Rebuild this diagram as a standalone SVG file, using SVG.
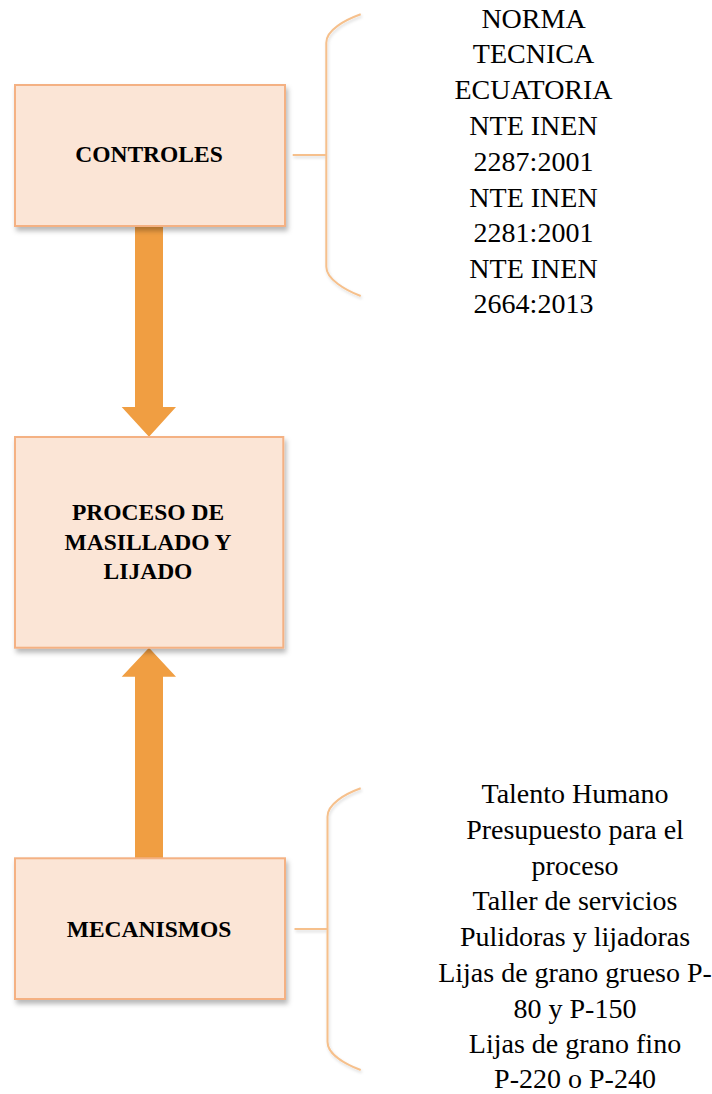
<svg xmlns="http://www.w3.org/2000/svg" width="712" height="1094" viewBox="0 0 712 1094">
  <style>
    .box { fill: #FBE5D6; stroke: #F4B183; stroke-width: 2; filter: url(#shadow); }
    .arrow { fill: #F09E42; }
    .brace { fill: none; stroke: #F6C08C; stroke-width: 2; filter: url(#softShadow); }
    .title { font-family: "Liberation Serif", "Times New Roman", serif; font-weight: bold; font-size: 23.5px; fill: #000; text-anchor: middle; }
    .list { font-family: "Liberation Serif", "Times New Roman", serif; font-size: 28px; fill: #000; text-anchor: middle; }
  </style>
  <defs>
    <filter id="shadow" x="-10%" y="-10%" width="125%" height="130%">
      <feDropShadow dx="2" dy="4" stdDeviation="2.5" flood-color="#000" flood-opacity="0.28"/>
    </filter>
    <filter id="softShadow" x="-20%" y="-10%" width="150%" height="130%">
      <feDropShadow dx="1" dy="2" stdDeviation="1.5" flood-color="#000" flood-opacity="0.15"/>
    </filter>
  </defs>

  <rect width="712" height="1094" fill="#FFFFFF"/>

  <!-- connectors: block arrows between the boxes and the braces to the lists -->
  <g id="connectors">
    <path class="arrow" d="M135,226 H163 V407 H176 L149,436.7 L121.7,407 H135 Z"/>
    <path class="arrow" d="M135,858 H163 V676.7 H176 L149,647.7 L121.7,676.7 H135 Z"/>
    <path class="brace" d="M360.7,14.3 C345,20 326.3,30 326.3,42.7 V266.7 C326.3,279 345,290 360.7,296 M292.7,155 H326.3"/>
    <path class="brace" d="M360.7,788.3 C345,794 327.5,804 327.5,816.7 V1041.7 C327.5,1054 345,1064 360.7,1070 M294.5,929 H327.5"/>
  </g>

  <g id="controles">
    <rect class="box" x="15" y="85" width="270" height="141"/>
    <text class="title" x="149" y="162.3">CONTROLES</text>
  </g>

  <g id="normas">
    <text class="list" x="533.5" y="27.7">NORMA</text>
    <text class="list" x="533.5" y="63.3">TECNICA</text>
    <text class="list" x="533.5" y="99">ECUATORIA</text>
    <text class="list" x="533.5" y="135">NTE INEN</text>
    <text class="list" x="533.5" y="170.7">2287:2001</text>
    <text class="list" x="533.5" y="206.7">NTE INEN</text>
    <text class="list" x="533.5" y="242.3">2281:2001</text>
    <text class="list" x="533.5" y="277.7">NTE INEN</text>
    <text class="list" x="533.5" y="313.3">2664:2013</text>
  </g>

  <g id="proceso">
    <rect class="box" x="15" y="437" width="268.3" height="210.7"/>
    <text class="title" x="148" y="520">PROCESO DE</text>
    <text class="title" x="148" y="549.7">MASILLADO Y</text>
    <text class="title" x="148" y="579">LIJADO</text>
  </g>

  <g id="mecanismos">
    <rect class="box" x="15" y="858.3" width="270" height="140.7"/>
    <text class="title" x="149" y="936.7">MECANISMOS</text>
  </g>

  <g id="recursos">
    <text class="list" x="575" y="803.3">Talento Humano</text>
    <text class="list" x="575" y="839.3">Presupuesto para el</text>
    <text class="list" x="575" y="874.5">proceso</text>
    <text class="list" x="575" y="910">Taller de servicios</text>
    <text class="list" x="575" y="945.7">Pulidoras y lijadoras</text>
    <text class="list" x="575" y="981.7">Lijas de grano grueso P-</text>
    <text class="list" x="575" y="1017.5">80 y P-150</text>
    <text class="list" x="575" y="1053">Lijas de grano fino</text>
    <text class="list" x="575" y="1088.3">P-220 o P-240</text>
  </g>
</svg>
